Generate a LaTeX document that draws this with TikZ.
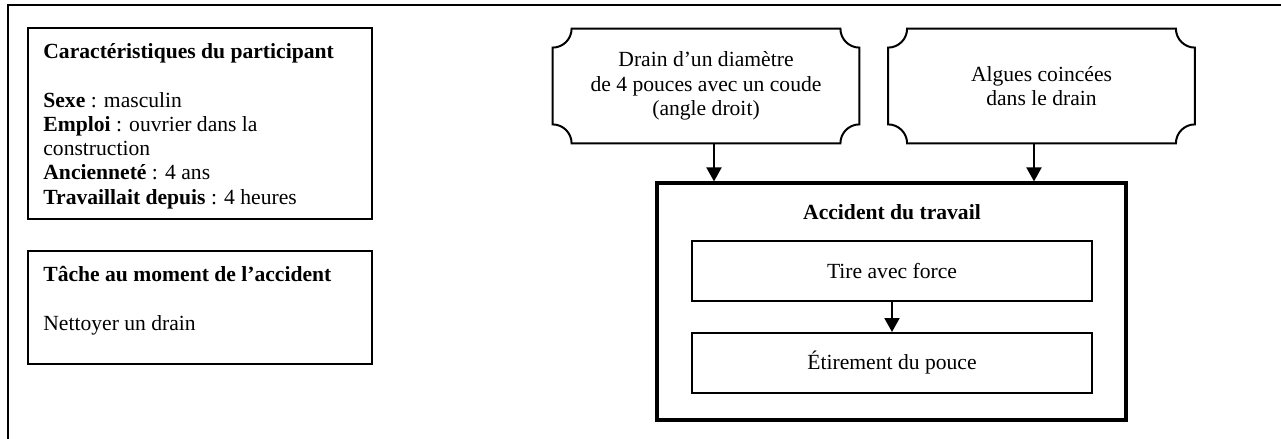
\documentclass[tikz,border=0pt]{standalone}
\usepackage{fontspec}
\setmainfont{Liberation Serif}
\usetikzlibrary{arrows.meta,positioning}
\newcommand{\plaqueline}[1]{%
\draw [black, line width=1pt] ([yshift=-9.5pt]#1.north west) arc[start angle=-90, end angle=0, radius=9.5pt]
  -- ([xshift=-9.5pt]#1.north east) arc[start angle=180, end angle=270, radius=9.5pt]
  -- ([yshift=9.5pt]#1.south east) arc[start angle=90, end angle=180, radius=9.5pt]
  -- ([xshift=9.5pt]#1.south west) arc[start angle=0, end angle=90, radius=9.5pt] -- cycle;}
\begin{document}
\begin{tikzpicture}[x=0.5pt,y=-0.5pt,
  every node/.style={font=\fontsize{10.8}{12.15}\selectfont, inner sep=0pt},
  infobox/.style={draw=black, line width=1pt, anchor=north west, minimum width=172pt},
  infotext/.style={anchor=north west, align=left},
  plaque/.style={minimum width=153pt, minimum height=57pt, align=center},
  stepbox/.style={draw=black, line width=1pt, minimum width=200pt, minimum height=30pt},
  arr/.style={line width=1pt, -{Triangle[length=7pt,width=7.5pt]}}]
\useasboundingbox (0,0) rectangle (1281,439);
\draw [black, line width=1pt] (1281,4.5) -- (8,4.5) -- (8,439);

\node [infobox, minimum height=95.5pt] (carac) at (27,27) {};
\node [infotext, below right=8pt and 8pt of carac.north west] (caractext)
  {\textbf{Caractéristiques du participant}\\[12.15pt]
   \textbf{Sexe} : masculin\\
   \textbf{Emploi} : ouvrier dans la\\
   construction\\
   \textbf{Ancienneté} : 4 ans\\
   \textbf{Travaillait depuis} : 4 heures};
\node [infobox, minimum height=56.5pt] (tache) at (27,250) {};
\node [infotext, below right=8pt and 8pt of tache.north west] (tachetext)
  {\textbf{Tâche au moment de l’accident}\\[12.15pt]
   Nettoyer un drain};

\node [plaque] (drain) at (706,86) {Drain d’un diamètre\\de 4 pouces avec un coude\\(angle droit)};
\plaqueline{drain}
\node [plaque] (algues) at (1041.5,86) {Algues coincées\\dans le drain};
\plaqueline{algues}

\node [draw=black, line width=1.6pt, minimum width=234.5pt, minimum height=118.5pt] (accident) at (891.5,301.5) {};
\node (acctitle) at (892,212) {\textbf{Accident du travail}};
\node [stepbox] (tire) at (892,270.5) {Tire avec force};
\node [stepbox] (etire) at (892,363) {Étirement du pouce};

\draw [arr] ([xshift=4pt]drain.south) -- ([xshift=4pt]drain.south |- accident.north);
\draw [arr] ([xshift=-3.75pt]algues.south) -- ([xshift=-3.75pt]algues.south |- accident.north);
\draw [arr] (tire.south) -- (etire.north);
\end{tikzpicture}
\end{document}
